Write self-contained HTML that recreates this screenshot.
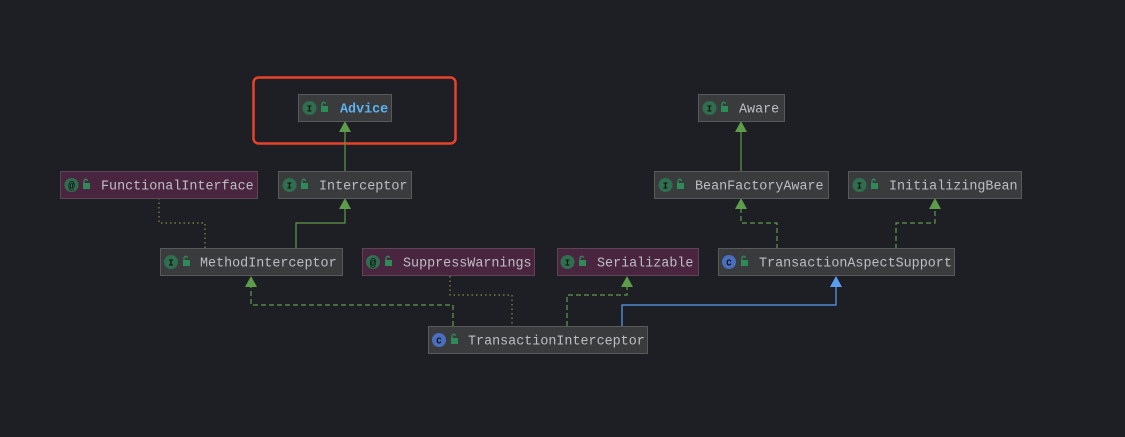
<!DOCTYPE html>
<html><head><meta charset="utf-8"><style>
html,body{margin:0;padding:0;background:#1e1f24;}
svg{display:block}
text{font-family:"Liberation Mono","DejaVu Sans Mono",monospace;}
</style></head><body>
<svg width="1125" height="437" viewBox="0 0 1125 437" xmlns="http://www.w3.org/2000/svg">
<defs>
<g id="lock"><rect x="0" y="3" width="7" height="6" fill="#2e8b57"/><path d="M1 3 V1 A1.7 1.7 0 0 1 4.4 1" stroke="#2e8b57" stroke-width="1.3" fill="none"/></g>
</defs>
<rect width="1125" height="437" fill="#1e1f24"/>
<rect x="253.5" y="77.5" width="202" height="66" rx="5" fill="none" stroke="#e8422c" stroke-width="2.5"/>

<g fill="none" stroke-width="1.2">
<path d="M345 171 V128" stroke="#5e9b4a"/>
<path d="M296 249 V223 H345 V205" stroke="#5e9b4a"/>
<path d="M159 198 V223 H205 V249" stroke="#8a8a40" stroke-dasharray="1.5 3"/>
<path d="M453 326 V305 H251 V283" stroke="#5e9b4a" stroke-dasharray="5 3"/>
<path d="M450 276 V295 H512 V326" stroke="#8a8a40" stroke-dasharray="1.5 3"/>
<path d="M567 326 V295 H627 V283" stroke="#5e9b4a" stroke-dasharray="5 3"/>
<path d="M622 326 V305 H836 V283" stroke="#5a9ef0"/>
<path d="M741 171 V128" stroke="#5e9b4a"/>
<path d="M777 249 V223 H741 V205" stroke="#5e9b4a" stroke-dasharray="5 3"/>
<path d="M896 249 V223 H935 V205" stroke="#5e9b4a" stroke-dasharray="5 3"/>
</g>
<g fill="#5e9b4a">
<path d="M345 121 l-6 11 h12z"/>
<path d="M345 198 l-6 11 h12z"/>
<path d="M251 276 l-6 11 h12z"/>
<path d="M627 276 l-6 11 h12z"/>
<path d="M741 121 l-6 11 h12z"/>
<path d="M741 198 l-6 11 h12z"/>
<path d="M935 198 l-6 11 h12z"/>
</g>
<path d="M836 276 l-6 11 h12z" fill="#5a9ef0"/>

<g font-size="13.4" fill="#bdbec4">
<rect x="298.5" y="94.5" width="93" height="27" fill="#3a3b3d" stroke="#58595b"/>
<circle cx="309.5" cy="108" r="7" fill="#2f6e4f"/><text x="309.5" y="111.5" font-size="9" font-weight="bold" fill="#111" text-anchor="middle">I</text>
<use href="#lock" x="321" y="103"/>
<text x="340" y="112.5" fill="#5fb2f0" font-weight="bold">Advice</text>

<rect x="698.5" y="94.5" width="86" height="27" fill="#3a3b3d" stroke="#58595b"/>
<circle cx="709.5" cy="108" r="7" fill="#2f6e4f"/><text x="709.5" y="111.5" font-size="9" font-weight="bold" fill="#111" text-anchor="middle">I</text>
<use href="#lock" x="721" y="103"/>
<text x="739" y="112.5">Aware</text>

<rect x="60.5" y="171.5" width="197" height="27" fill="#4a2540" stroke="#5d4556"/>
<circle cx="71.5" cy="185" r="7" fill="#2f6e4f"/><text x="71.5" y="189" font-size="11" font-weight="bold" fill="#111" text-anchor="middle">@</text>
<use href="#lock" x="83" y="180"/>
<text x="101" y="189.5">FunctionalInterface</text>

<rect x="278.5" y="171.5" width="133" height="27" fill="#3a3b3d" stroke="#58595b"/>
<circle cx="289.5" cy="185" r="7" fill="#2f6e4f"/><text x="289.5" y="188.5" font-size="9" font-weight="bold" fill="#111" text-anchor="middle">I</text>
<use href="#lock" x="301" y="180"/>
<text x="319" y="189.5">Interceptor</text>

<rect x="654.5" y="171.5" width="174" height="27" fill="#3a3b3d" stroke="#58595b"/>
<circle cx="665.5" cy="185" r="7" fill="#2f6e4f"/><text x="665.5" y="188.5" font-size="9" font-weight="bold" fill="#111" text-anchor="middle">I</text>
<use href="#lock" x="677" y="180"/>
<text x="695" y="189.5">BeanFactoryAware</text>

<rect x="848.5" y="171.5" width="173" height="27" fill="#3a3b3d" stroke="#58595b"/>
<circle cx="859.5" cy="185" r="7" fill="#2f6e4f"/><text x="859.5" y="188.5" font-size="9" font-weight="bold" fill="#111" text-anchor="middle">I</text>
<use href="#lock" x="871" y="180"/>
<text x="889" y="189.5">InitializingBean</text>

<rect x="160.5" y="248.5" width="182" height="27" fill="#3a3b3d" stroke="#58595b"/>
<circle cx="171" cy="262" r="7" fill="#2f6e4f"/><text x="171" y="265.5" font-size="9" font-weight="bold" fill="#111" text-anchor="middle">I</text>
<use href="#lock" x="183" y="257"/>
<text x="200" y="266.5">MethodInterceptor</text>

<rect x="362.5" y="248.5" width="172" height="27" fill="#4a2540" stroke="#5d4556"/>
<circle cx="373" cy="262" r="7" fill="#2f6e4f"/><text x="373" y="266" font-size="11" font-weight="bold" fill="#111" text-anchor="middle">@</text>
<use href="#lock" x="385" y="257"/>
<text x="403" y="266.5">SuppressWarnings</text>

<rect x="557.5" y="248.5" width="141" height="27" fill="#4a2540" stroke="#5d4556"/>
<circle cx="567.5" cy="262" r="7" fill="#2f6e4f"/><text x="567.5" y="265.5" font-size="9" font-weight="bold" fill="#111" text-anchor="middle">I</text>
<use href="#lock" x="579" y="257"/>
<text x="597" y="266.5">Serializable</text>

<rect x="718.5" y="248.5" width="236" height="27" fill="#3a3b3d" stroke="#58595b"/>
<circle cx="729" cy="262" r="7" fill="#4a6fc0"/><text x="729" y="265.5" font-size="9" font-weight="bold" fill="#111" text-anchor="middle">C</text>
<use href="#lock" x="741" y="257"/>
<text x="759" y="266.5">TransactionAspectSupport</text>

<rect x="428.5" y="326.5" width="219" height="27" fill="#3a3b3d" stroke="#58595b"/>
<circle cx="439" cy="340" r="7" fill="#4a6fc0"/><text x="439" y="343.5" font-size="9" font-weight="bold" fill="#111" text-anchor="middle">C</text>
<use href="#lock" x="451" y="335"/>
<text x="468" y="344.5">TransactionInterceptor</text>
</g>
</svg>
</body></html>
